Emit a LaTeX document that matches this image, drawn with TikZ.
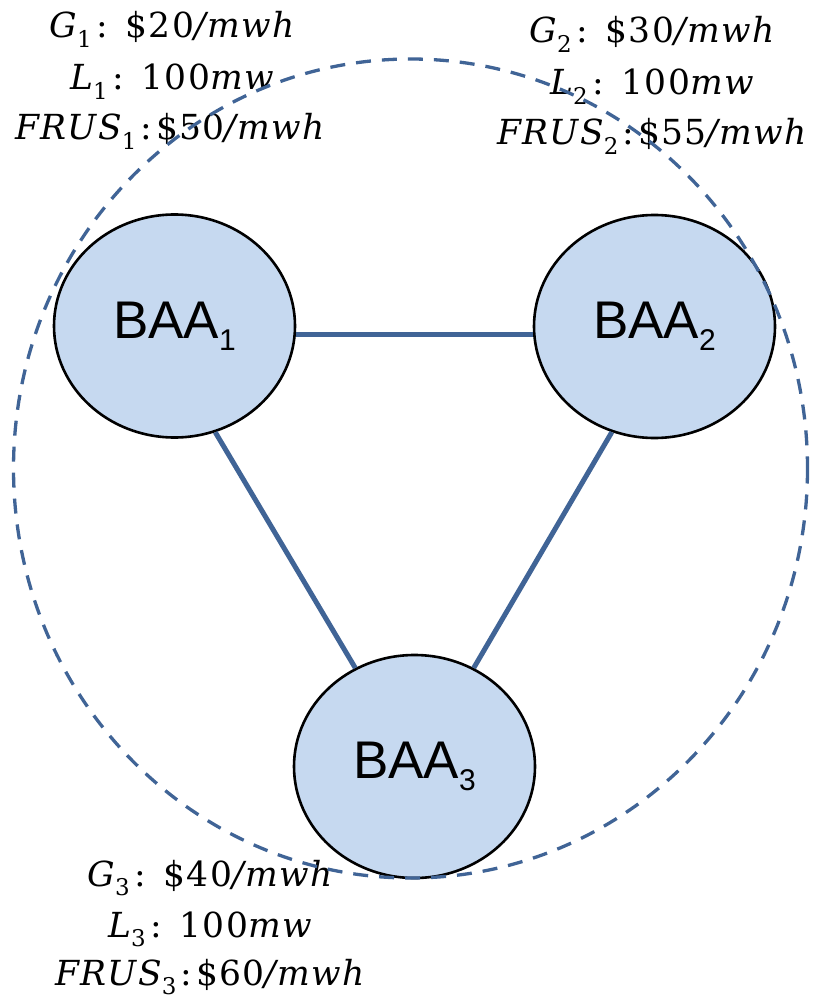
\documentclass[tikz,border=0pt]{standalone}
\usepackage{fontspec}
\newfontfamily\arialfont{Liberation Sans}
\newfontfamily\lblfont[LetterSpace=4]{DejaVu Serif}
\usetikzlibrary{shapes.geometric}
\definecolor{linkblue}{RGB}{64,100,150}
\definecolor{baafill}{RGB}{198,217,240}
\newcommand\bsub[1]{\raisebox{-0.23em}{\fontsize{30}{30}\selectfont #1}}
\newcommand\lsub[1]{\raisebox{-0.28em}{\fontsize{23}{23}\selectfont #1}}
\newcommand\vit[1]{{\itshape #1}}
\tikzset{
  baa/.style={ellipse, draw=black, line width=2.6pt, fill=baafill, minimum width=241pt, minimum height=223pt, inner sep=0pt, font=\arialfont\fontsize{53}{60}\selectfont},
  link/.style={draw=linkblue, line width=5pt},
  region/.style={draw=linkblue, line width=3.3pt, dash pattern=on 15pt off 11pt},
  lbl/.style={anchor=base, inner sep=0pt, font=\lblfont\fontsize{34.5}{40}\selectfont}
}
\begin{document}
\begin{tikzpicture}[x=1pt,y=-1pt]
\useasboundingbox (0,0) rectangle (819,1003);
\node[baa] (b1) at (174.5,326) {BAA\bsub{1}};
\node[baa] (b2) at (654.5,326.5) {BAA\bsub{2}};
\node[baa] (b3) at (414.5,766.5) {BAA\bsub{3}};
\draw[link] (b1.-4) -- (b1.-4 -| b2.west);
\draw[link] (b1.-69) -- (b3.121);
\draw[link] (b2.-112) -- (b3.59);
\node[lbl] (g1) at (172,38) {\vit{G}\lsub{1}\hspace{5pt}:\hspace{5pt}\ \$20\vit{/mwh}};
\node[lbl] (l1) at (172,90) {\vit{L}\lsub{1}\hspace{5pt}:\hspace{5pt}\ 100\vit{mw}};
\node[lbl] (f1) at (170,140) {\vit{FRUS}\lsub{1}\hspace{4pt}:\hspace{4pt}\$50\vit{/mwh}};
\node[lbl] (g2) at (652,43) {\vit{G}\lsub{2}\hspace{5pt}:\hspace{5pt}\ \$30\vit{/mwh}};
\node[lbl] (l2) at (652,95) {\vit{L}\lsub{2}\hspace{5pt}:\hspace{5pt}\ 100\vit{mw}};
\node[lbl] (f2) at (652,145) {\vit{FRUS}\lsub{2}\hspace{4pt}:\hspace{4pt}\$55\vit{/mwh}};
\node[lbl] (g3) at (210,886) {\vit{G}\lsub{3}\hspace{5pt}:\hspace{5pt}\ \$40\vit{/mwh}};
\node[lbl] (l3) at (210,937) {\vit{L}\lsub{3}\hspace{5pt}:\hspace{5pt}\ 100\vit{mw}};
\node[lbl] (f3) at (210,985) {\vit{FRUS}\lsub{3}\hspace{4pt}:\hspace{4pt}\$60\vit{/mwh}};
\draw[region] (410.5,468.5) ellipse [x radius=397, y radius=409.5];
\end{tikzpicture}
\end{document}
